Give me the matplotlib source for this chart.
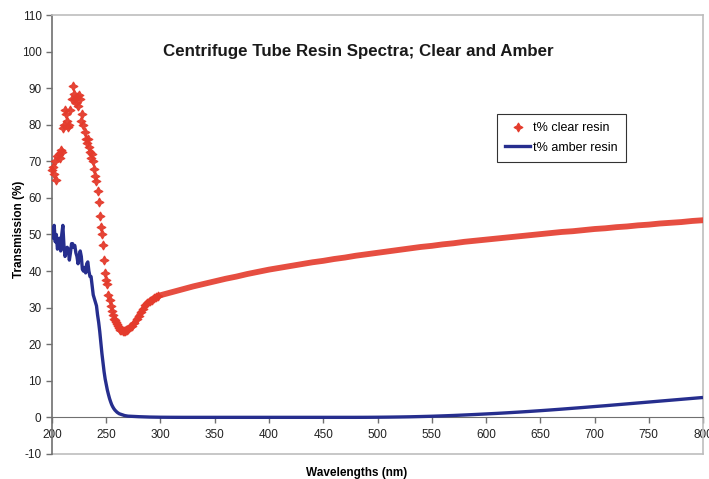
import numpy as np
import matplotlib
matplotlib.use('Agg')
from matplotlib import pyplot as plt
from matplotlib.lines import Line2D

plt.rcParams['font.family'] = ['Liberation Sans', 'DejaVu Sans']
plt.rcParams['axes.unicode_minus'] = False

# wavelengths (nm): 1 nm steps in the UV, coarser afterwards
uv_nm = list(range(200, 271))
vis_nm_clear = [272, 274, 276, 278, 280, 282, 284, 286, 288, 290, 292, 294, 296, 298, 300,
                310, 320, 330, 340, 350, 360, 370, 380, 390, 400, 410, 420, 430, 440, 450,
                460, 470, 480, 490, 500, 510, 520, 530, 540, 550, 560, 570, 580, 590, 600,
                610, 620, 630, 640, 650, 660, 670, 680, 690, 700, 710, 720, 730, 740, 750,
                760, 770, 780, 790, 800]
vis_nm_amber = list(range(280, 801, 10))

clear_uv = [67.5, 68.5, 66.5, 70, 65, 71.5, 72, 71, 73, 72.5,
            79, 80, 84, 83, 81, 79.5, 80, 84, 87, 90.5,
            88.5, 87, 86, 87.5, 85, 88, 87, 81, 83, 80,
            78, 76, 75, 76, 74, 72.5, 71, 72, 70, 68,
            66, 64.5, 62, 59, 55, 52, 50, 47, 43, 39.5,
            37.5, 36.5, 33.5, 32, 30.5, 29, 28, 27, 26.5, 26,
            25.5, 25, 24.5, 24, 23.8, 23.6, 23.5, 23.6, 23.8, 24,
            24.3]
clear_vis = [24.6, 25, 25.8, 26.8, 27.8, 28.8, 29.6, 30.6, 31.3, 31.8, 32.2, 32.6, 32.9, 33.2, 33.4,
             34.2, 35, 35.8, 36.5, 37.2, 37.9, 38.5, 39.2, 39.8, 40.4, 40.9, 41.4, 41.9, 42.4, 42.8,
             43.3, 43.7, 44.2, 44.6, 45.0, 45.4, 45.8, 46.2, 46.6, 46.9, 47.3, 47.6, 48.0, 48.3, 48.6,
             48.9, 49.2, 49.5, 49.8, 50.1, 50.4, 50.7, 50.9, 51.2, 51.5, 51.7, 52.0, 52.2, 52.5, 52.7,
             53.0, 53.2, 53.4, 53.7, 53.9]

amber_uv = [50.5, 49, 52.5, 48, 50, 46, 47, 49, 45.5, 50,
            52.5, 47, 44, 45, 46.5, 46, 43, 45, 47.5, 47.5,
            46.5, 47, 45, 44, 42, 44, 45.5, 44, 40.5, 40,
            41, 39.5, 42, 42.5, 40, 38.5, 38.5, 36, 33.5, 32.5,
            31.5, 30.5, 28, 26, 23.5, 20.5, 17.5, 15, 12.5, 10.5,
            9, 7.5, 6.3, 5.2, 4.3, 3.5, 2.9, 2.4, 2.0, 1.7,
            1.4, 1.2, 1.0, 0.9, 0.8, 0.7, 0.6, 0.5, 0.45, 0.4,
            0.35]
amber_vis = [0.2, 0.1, 0.05, 0.03, 0.02, 0.02, 0.02, 0.02, 0.02, 0.02,
             0.02, 0.02, 0.02, 0.02, 0.02, 0.02, 0.02, 0.02, 0.02, 0.02,
             0.02, 0.03, 0.05, 0.08, 0.12, 0.17, 0.24, 0.32, 0.42, 0.53,
             0.66, 0.8, 0.95, 1.1, 1.27, 1.45, 1.64, 1.84, 2.05, 2.27,
             2.5, 2.73, 2.97, 3.2, 3.45, 3.7, 3.95, 4.2, 4.45, 4.7,
             4.95, 5.2, 5.45]

x_ticks = list(range(200, 801, 50))
y_ticks = list(range(-10, 111, 10))

clear_nm = np.array(uv_nm + vis_nm_clear)
clear_t = np.array(clear_uv + clear_vis)
amber_nm = np.array(uv_nm + vis_nm_amber)
amber_t = np.array(amber_uv + amber_vis)

red = '#e43b2c'
blue = '#262e8e'
dark = '#707070'
light = '#bdbdbd'
star = (4, 1, 0)

fig = plt.figure(figsize=(7.09, 4.79), dpi=100)
ax = fig.add_axes([52 / 709, 1 - 454 / 479, 651 / 709, 439 / 479])

ax.plot(amber_nm, amber_t, color=blue, lw=2.4, solid_capstyle='butt', zorder=3)

# the smooth part of the clear resin scan is dense enough to read as a band
smooth = clear_nm >= 262
ax.plot(clear_nm[smooth], clear_t[smooth], color=red, lw=4.2, alpha=0.9, zorder=4)
uv = clear_nm < 300
ax.plot(clear_nm[uv], clear_t[uv], ls='none', marker=star, ms=6.5, mfc=red, mec=red,
        mew=0.8, alpha=0.95, zorder=5, clip_on=False)

ax.set_xlim(200, 800)
ax.set_ylim(-10, 110)
ax.set_xticks(x_ticks)
ax.set_yticks(y_ticks)

ax.spines['bottom'].set_position(('data', 0))
ax.spines['bottom'].set_color(dark)
ax.spines['left'].set_color(dark)
ax.spines['left'].set_linewidth(1.2)
ax.spines['top'].set_color(light)
ax.spines['right'].set_color(light)
ax.spines['top'].set_linewidth(1.2)
ax.spines['right'].set_linewidth(1.2)
ax.add_line(Line2D([0, 1], [0, 0], transform=ax.transAxes, color=light, lw=1.2,
                   clip_on=False, zorder=1))

ax.tick_params(axis='both', direction='out', length=4, width=1, color=dark,
               labelsize=8.5, labelcolor='#222222')
ax.tick_params(axis='x', pad=4)

ax.text(0.470, 0.916, 'Centrifuge Tube Resin Spectra; Clear and Amber',
        transform=ax.transAxes, ha='center', va='center', fontsize=12.2,
        fontweight='bold', color='#1a1a1a')

ax.set_ylabel('Transmission (%)', fontsize=8.5, fontweight='bold')
ax.yaxis.set_label_coords(-0.0415, 0.512)
fig.text(357 / 709, 1 - 473 / 479, 'Wavelengths (nm)', ha='center', va='center',
         fontsize=8.5, fontweight='bold')

handles = [Line2D([], [], ls='none', marker=star, ms=6.5, mfc=red, mec=red, mew=0.8),
           Line2D([], [], color=blue, lw=2.4)]
leg = ax.legend(handles, ['t% clear resin', 't% amber resin'], loc='upper left',
                bbox_to_anchor=(0.6836, 0.7745), fontsize=9, frameon=True,
                fancybox=False, edgecolor='black', handlelength=2.0,
                handletextpad=0.25, borderpad=0.65, labelspacing=0.6, borderaxespad=0)
leg.get_frame().set_linewidth(0.8)

fig.savefig('out.png', dpi=100)
